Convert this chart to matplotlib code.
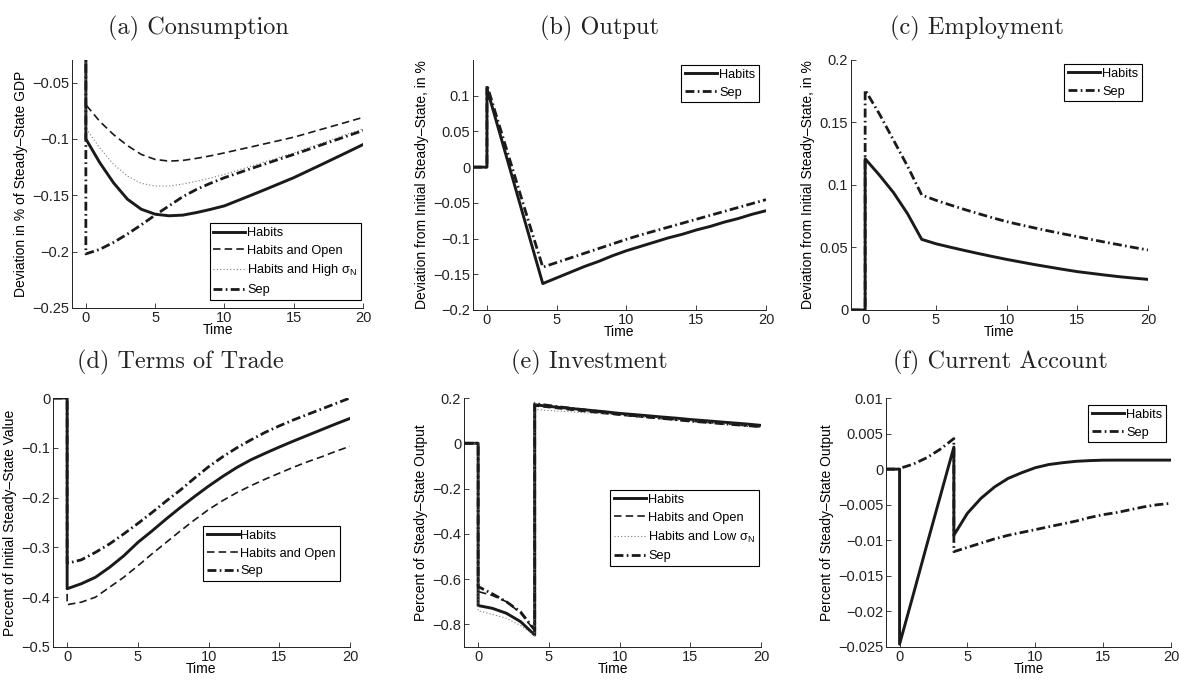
import numpy as np
import matplotlib
matplotlib.use("Agg")
import matplotlib.pyplot as plt
from matplotlib.ticker import FuncFormatter

plt.rcParams['font.family'] = ['Liberation Sans', 'DejaVu Sans']
plt.rcParams['mathtext.fontset'] = 'custom'
plt.rcParams['mathtext.rm'] = 'Liberation Sans'
plt.rcParams['mathtext.it'] = 'Liberation Sans'

# time grid (0 and 4 repeated to allow the jumps)
t = [-1, 0, 0, 1, 2, 3, 4, 4, 5, 6, 7, 8, 9, 10, 11, 12, 13, 14, 15, 16, 17, 18, 19, 20]

# (a) Consumption
cons_habits = [0, 0, -0.100, -0.121, -0.139, -0.1535, -0.1624, -0.1624, -0.1668, -0.1682, -0.1676, -0.1653,
               -0.1625, -0.1594, -0.1545, -0.1496, -0.1446, -0.1395, -0.1344, -0.1286, -0.1228, -0.1169, -0.111, -0.105]
cons_open = [0, 0, -0.0697, -0.0844, -0.0962, -0.1059, -0.1138, -0.1138, -0.1182, -0.1197, -0.1191, -0.1172,
             -0.115, -0.1124, -0.1096, -0.1069, -0.1041, -0.1013, -0.0985, -0.095, -0.0915, -0.088, -0.0845, -0.0809]
cons_high = [0, 0, -0.0903, -0.108, -0.1226, -0.133, -0.1394, -0.1394, -0.1418, -0.1418, -0.140, -0.1375,
             -0.1347, -0.1315, -0.1277, -0.1239, -0.12, -0.1162, -0.1124, -0.1081, -0.1038, -0.0995, -0.0952, -0.091]
cons_sep = [0, 0, -0.202, -0.198, -0.1918, -0.1844, -0.1762, -0.1762, -0.1676, -0.1594, -0.1512, -0.1447,
            -0.1393, -0.1344, -0.1302, -0.126, -0.1219, -0.1178, -0.1138, -0.1096, -0.1053, -0.1011, -0.0968, -0.0926]

# (b) Output
out_habits = [0, 0, 0.110, 0.0418, -0.0265, -0.0948, -0.163, -0.163, -0.155, -0.147, -0.139, -0.132,
              -0.124, -0.117, -0.111, -0.105, -0.099, -0.094, -0.088, -0.083, -0.077, -0.072, -0.066, -0.061]
out_sep = [0, 0, 0.115, 0.051, -0.013, -0.077, -0.140, -0.140, -0.1335, -0.127, -0.1205, -0.114,
           -0.1075, -0.101, -0.095, -0.0895, -0.084, -0.0785, -0.073, -0.0675, -0.062, -0.0565, -0.051, -0.0455]

# (c) Employment
emp_habits = [0, 0, 0.121, 0.108, 0.094, 0.077, 0.0565, 0.0565, 0.053, 0.0503, 0.0477, 0.0452,
              0.0428, 0.0405, 0.0384, 0.0363, 0.0344, 0.0325, 0.0307, 0.0293, 0.0279, 0.0266, 0.0255, 0.0245]
emp_sep = [0, 0, 0.176, 0.157, 0.136, 0.115, 0.092, 0.092, 0.0878, 0.0841, 0.0805, 0.0771,
           0.0738, 0.0707, 0.0681, 0.0656, 0.0632, 0.0609, 0.0587, 0.0564, 0.0542, 0.0521, 0.05, 0.048]

# (d) Terms of Trade
tot_habits = [0, 0, -0.383, -0.373, -0.360, -0.340, -0.317, -0.317, -0.290, -0.267, -0.243, -0.220,
              -0.198, -0.177, -0.1575, -0.1395, -0.124, -0.111, -0.0985, -0.0865, -0.075, -0.0635, -0.052, -0.041]
tot_open = [0, 0, -0.415, -0.410, -0.400, -0.380, -0.360, -0.360, -0.337, -0.313, -0.290, -0.267,
            -0.245, -0.224, -0.206, -0.190, -0.176, -0.163, -0.151, -0.139, -0.128, -0.118, -0.107, -0.097]
tot_sep = [0, 0, -0.332, -0.325, -0.310, -0.293, -0.273, -0.273, -0.252, -0.230, -0.207, -0.185,
           -0.161, -0.138, -0.118, -0.100, -0.084, -0.069, -0.056, -0.044, -0.033, -0.022, -0.011, 0.0]

# (e) Investment
inv_habits = [0, 0, -0.717, -0.729, -0.751, -0.788, -0.847, 0.170, 0.163, 0.157, 0.151, 0.145,
              0.139, 0.132, 0.127, 0.1215, 0.116, 0.111, 0.105, 0.100, 0.095, 0.090, 0.085, 0.079]
inv_open = [0, 0, -0.655, -0.672, -0.700, -0.750, -0.828, 0.165, 0.158, 0.151, 0.144, 0.137,
            0.131, 0.125, 0.119, 0.114, 0.109, 0.104, 0.098, 0.093, 0.088, 0.083, 0.077, 0.072]
inv_low = [0, 0, -0.740, -0.756, -0.773, -0.805, -0.850, 0.150, 0.145, 0.141, 0.137, 0.133,
           0.129, 0.125, 0.120, 0.115, 0.110, 0.105, 0.100, 0.095, 0.089, 0.084, 0.078, 0.073]
inv_sep = [0, 0, -0.633, -0.665, -0.700, -0.745, -0.825, 0.175, 0.167, 0.159, 0.151, 0.144,
           0.136, 0.128, 0.122, 0.116, 0.110, 0.104, 0.098, 0.093, 0.088, 0.083, 0.078, 0.074]

# (f) Current Account
ca_habits = [0, 0, -0.0246, -0.0177, -0.0107, -0.0038, 0.0031, -0.0093, -0.0062, -0.0041, -0.0025, -0.0013,
             -0.0005, 0.0002, 0.00065, 0.0009, 0.0011, 0.0012, 0.00126, 0.00127, 0.00127, 0.00127, 0.00127, 0.00127]
ca_sep = [0, 0, 0.0001, 0.0007, 0.0016, 0.0028, 0.0043, -0.0116, -0.0110, -0.0104, -0.0098, -0.0093,
          -0.0089, -0.0085, -0.0081, -0.0077, -0.0073, -0.0068, -0.0064, -0.0061, -0.0057, -0.0053, -0.0050, -0.0048]

titles = ['(a) Consumption', '(b) Output', '(c) Employment',
          '(d) Terms of Trade', '(e) Investment', '(f) Current Account']
ylabels = ['Deviation in % of Steady\u2013State GDP',
           'Deviation from Initial Steady\u2013State, in %',
           'Deviation from Initial Steady\u2013State, in %',
           'Percent of Initial Steady\u2013State Value',
           'Percent of Steady\u2013State Output',
           'Percent of Steady\u2013State Output']
xticks = [0, 5, 10, 15, 20]
yticks = [[-0.25, -0.2, -0.15, -0.1, -0.05],
          [-0.2, -0.15, -0.1, -0.05, 0, 0.05, 0.1],
          [0, 0.05, 0.1, 0.15, 0.2],
          [-0.5, -0.4, -0.3, -0.2, -0.1, 0],
          [-0.8, -0.6, -0.4, -0.2, 0, 0.2],
          [-0.025, -0.02, -0.015, -0.01, -0.005, 0, 0.005, 0.01]]
ylims = [(-0.25, -0.03), (-0.2, 0.15), (0, 0.2), (-0.5, 0), (-0.9, 0.2), (-0.025, 0.01)]

lab_h = 'Habits'
lab_o = 'Habits and Open'
lab_hi = r'Habits and High $\sigma_{\rm N}$'
lab_lo = r'Habits and Low $\sigma_{\rm N}$'
lab_s = 'Sep'

S_HAB = dict(color='#1a1a1a', lw=2.1, ls='-')
S_OPEN = dict(color='#1a1a1a', lw=1.2, ls=(0, (4.5, 2.5)))
S_DOT = dict(color='#7a7a7a', lw=0.8, ls=(0, (1, 2)))
S_SEP = dict(color='#1a1a1a', lw=2.0, ls=(0, (3.2, 1.2, 0.6, 1.2)))

panels = [
    [(cons_habits, S_HAB, lab_h), (cons_open, S_OPEN, lab_o), (cons_high, S_DOT, lab_hi), (cons_sep, S_SEP, lab_s)],
    [(out_habits, S_HAB, lab_h), (out_sep, S_SEP, lab_s)],
    [(emp_habits, S_HAB, lab_h), (emp_sep, S_SEP, lab_s)],
    [(tot_habits, S_HAB, lab_h), (tot_open, S_OPEN, lab_o), (tot_sep, S_SEP, lab_s)],
    [(inv_habits, S_HAB, lab_h), (inv_open, S_OPEN, lab_o), (inv_low, S_DOT, lab_lo), (inv_sep, S_SEP, lab_s)],
    [(ca_habits, S_HAB, lab_h), (ca_sep, S_SEP, lab_s)],
]

W, H = 1179, 680
# axes boxes in pixels: left, right, top, bottom
boxes = [(72, 363, 60, 308), (473, 766, 60, 310), (851, 1148, 60, 310),
         (53, 350, 398, 647), (464, 761, 398, 647), (886, 1171, 398, 647)]
legend_anchor = [(0.993, 0.032, 'lower right'), (0.976, 0.98, 'upper right'), (0.98, 0.984, 'upper right'),
                 (0.966, 0.486, 'upper right'), (0.993, 0.63, 'upper right'), (0.982, 0.972, 'upper right')]
title_pos = [(198, 28), (599, 28), (977, 28), (180, 362), (589, 362), (1000, 362)]


def fmt(v, _):
    if abs(v) < 1e-12:
        return '0'
    return ('%g' % v).replace('-', '\u2212')


fig = plt.figure(figsize=(W / 100, H / 100), dpi=100)
for i, (l, r, tp, bt) in enumerate(boxes):
    ax = fig.add_axes([l / W, 1 - bt / H, (r - l) / W, (bt - tp) / H])
    for y, st, lab in panels[i]:
        ax.plot(t, y, label=lab, **st)
    ax.set_xlim(-1, 20)
    ax.set_ylim(*ylims[i])
    ax.set_xticks(xticks)
    ax.set_yticks(yticks[i])
    ax.yaxis.set_major_formatter(FuncFormatter(fmt))
    ax.xaxis.set_major_formatter(FuncFormatter(fmt))
    for s in ['top', 'right']:
        ax.spines[s].set_visible(False)
    for s in ['left', 'bottom']:
        ax.spines[s].set_linewidth(0.7)
        ax.spines[s].set_color('#222222')
    ax.tick_params(direction='in', length=3.5, width=0.6, labelsize=10.5, pad=2, colors='#222222')
    ax.set_xlabel('Time', fontsize=10, labelpad=-1)
    ax.set_ylabel(ylabels[i], fontsize=10, labelpad=3)
    bx, by, loc = legend_anchor[i]
    leg = ax.legend(loc=loc, bbox_to_anchor=(bx, by), fontsize=9.2, frameon=True, fancybox=False,
                    framealpha=1, edgecolor='black', borderaxespad=0, handlelength=2.5,
                    handletextpad=0.15, labelspacing=0.45, borderpad=0.3)
    leg.get_frame().set_linewidth(0.8)
    tx, ty = title_pos[i]
    fig.text(tx / W, 1 - ty / H, titles[i], ha='center', va='center', fontsize=17.5,
             family='cmr10', color='#222222')

fig.savefig('out.png', dpi=100)
